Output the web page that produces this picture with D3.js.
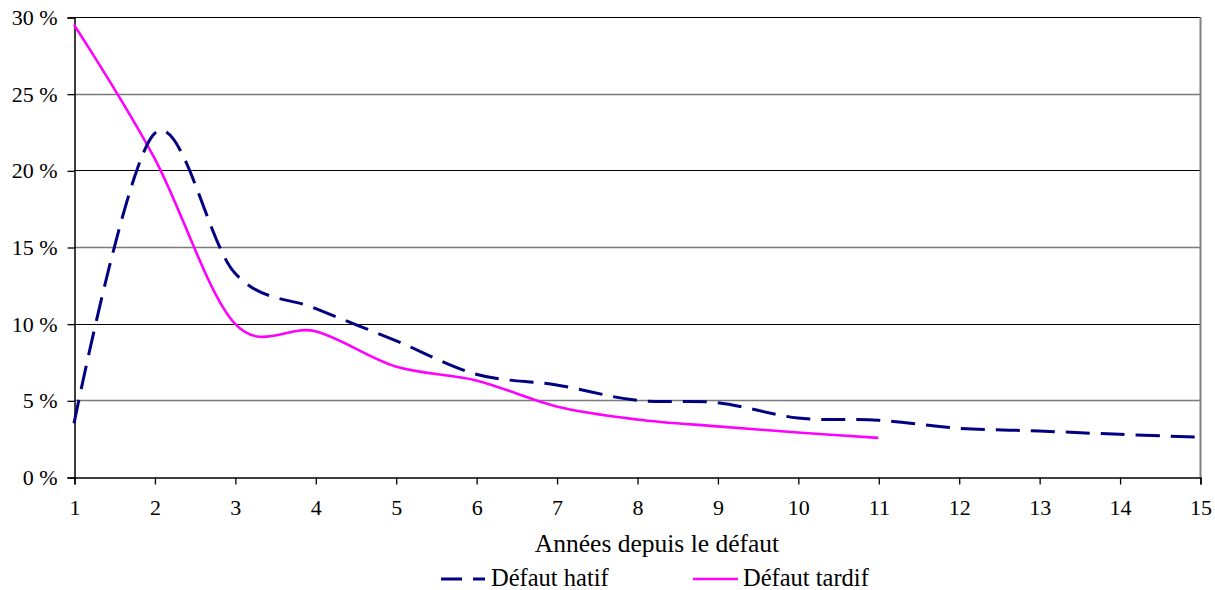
<!DOCTYPE html>
<html>
<head>
<meta charset="utf-8">
<script src="https://cdn.jsdelivr.net/npm/d3@7"></script>
<style>
  html, body { margin: 0; padding: 0; background: #fff; }
  svg { display: block; }
</style>
</head>
<body>
<svg id="chart" width="1215" height="590"></svg>
<script>
// Years since default (x) and share of recoveries (%) for the two default groups
const years = [1, 2, 3, 4, 5, 6, 7, 8, 9, 10, 11, 12, 13, 14, 15];
const hatif = [3.5, 22.4, 13.3, 11.0, 8.9, 6.7, 6.0, 5.0, 4.85, 3.85, 3.7, 3.18, 3.0, 2.78, 2.6];
const tardifYears = [1, 2, 3, 4, 5, 6, 7, 8, 9, 10, 11];
const tardif = [29.5, 20.8, 10.0, 9.5, 7.2, 6.3, 4.6, 3.75, 3.3, 2.9, 2.55];
const yTicks = [0, 5, 10, 15, 20, 25, 30];
const xTicks = years;
const seriesNames = ["Défaut hatif", "Défaut tardif"];
const axisTitle = "Années depuis le défaut";

const svg = d3.select("#chart");
const plotLeft = 74, plotRight = 1200, plotTop = 17, plotBottom = 477;
const serif = "'Liberation Serif'";

const x = d3.scaleLinear().domain([1, 15]).range([plotLeft, plotRight]);
const y = d3.scaleLinear().domain([0, 30]).range([plotBottom, plotTop]);

// horizontal gridlines
svg.append("g")
  .selectAll("line")
  .data(yTicks.filter(d => d > 0))
  .join("line")
  .attr("x1", plotLeft).attr("x2", plotRight)
  .attr("y1", d => Math.round(y(d)) + 0.5).attr("y2", d => Math.round(y(d)) + 0.5)
  .attr("stroke", d => (d % 10 === 0) ? "#000" : "#7a7a7a")
  .attr("stroke-width", d => (d % 10 === 0) ? 1.2 : 1.3);

// right border
svg.append("line")
  .attr("x1", plotRight + 0.5).attr("x2", plotRight + 0.5)
  .attr("y1", plotTop).attr("y2", plotBottom)
  .attr("stroke", "#808080").attr("stroke-width", 2);

// y axis
const yAxis = d3.axisLeft(y)
  .tickValues(yTicks)
  .tickSize(7)
  .tickPadding(10)
  .tickFormat(d => d + " %");
const gy = svg.append("g")
  .attr("transform", `translate(${plotLeft + 0.5},0.5)`)
  .call(yAxis);
gy.selectAll("text")
  .style("font-family", serif)
  .style("font-size", "22px")
  .attr("fill", "#000");

// x axis
const xAxis = d3.axisBottom(x)
  .tickValues(xTicks)
  .tickSize(7)
  .tickPadding(14.5)
  .tickFormat(d3.format("d"));
const gx = svg.append("g")
  .attr("transform", `translate(0.5,${plotBottom + 0.5})`)
  .call(xAxis);
gx.selectAll("text")
  .style("font-family", serif)
  .style("font-size", "22px")
  .attr("fill", "#000");
[gx, gy].forEach(g => {
  g.select(".domain").attr("stroke", "#000").attr("stroke-width", 1.5);
  g.selectAll(".tick line").attr("stroke", "#000").attr("stroke-width", 1.3);
});

// smoothed lines
const curve = d3.curveCardinal.tension(0);
const lineGen = d3.line()
  .x(d => x(d[0]))
  .y(d => y(d[1]))
  .curve(curve);

svg.append("path")
  .datum(tardifYears.map((t, i) => [t, tardif[i]]))
  .attr("d", lineGen)
  .attr("fill", "none")
  .attr("stroke", "#ff00ff")
  .attr("stroke-width", 2.6);

svg.append("path")
  .datum(years.map((t, i) => [t, hatif[i]]))
  .attr("d", lineGen)
  .attr("fill", "none")
  .attr("stroke", "#000080")
  .attr("stroke-width", 3)
  .attr("stroke-dasharray", "24,11");

// axis title
svg.append("text")
  .attr("x", 657).attr("y", 552)
  .attr("text-anchor", "middle")
  .style("font-family", serif)
  .style("font-size", "25.5px")
  .attr("fill", "#000")
  .text(axisTitle);

// legend
const legend = svg.append("g");
legend.append("line")
  .attr("x1", 441).attr("x2", 485).attr("y1", 579).attr("y2", 579)
  .attr("stroke", "#000080").attr("stroke-width", 3)
  .attr("stroke-dasharray", "21,11");
legend.append("text")
  .attr("x", 491).attr("y", 586)
  .style("font-family", serif)
  .style("font-size", "24.5px")
  .attr("fill", "#000")
  .text(seriesNames[0]);
legend.append("line")
  .attr("x1", 693).attr("x2", 738).attr("y1", 579).attr("y2", 579)
  .attr("stroke", "#ff00ff").attr("stroke-width", 2.6);
legend.append("text")
  .attr("x", 743).attr("y", 586)
  .style("font-family", serif)
  .style("font-size", "24.5px")
  .attr("fill", "#000")
  .text(seriesNames[1]);
</script>
</body>
</html>
